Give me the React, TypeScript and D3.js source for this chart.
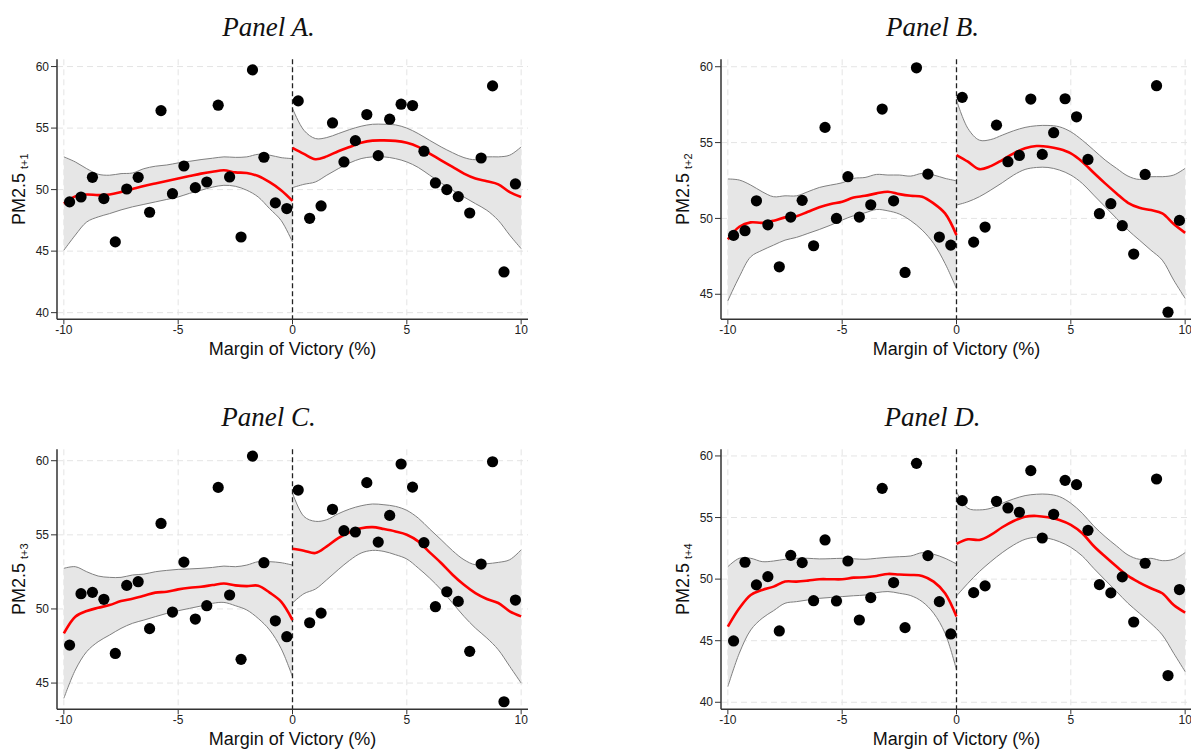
import React from "react";
import * as d3 from "d3";

// bin centres of the scatter (0.5-wide bins on each side of the cutoff)
const binCenters = [
  -9.75, -9.25, -8.75, -8.25, -7.75, -7.25, -6.75, -6.25, -5.75, -5.25,
  -4.75, -4.25, -3.75, -3.25, -2.75, -2.25, -1.75, -1.25, -0.75, -0.25,
  0.25, 0.75, 1.25, 1.75, 2.25, 2.75, 3.25, 3.75, 4.25, 4.75,
  5.25, 5.75, 6.25, 6.75, 7.25, 7.75, 8.25, 8.75, 9.25, 9.75,
];
// grid on which the local fits are evaluated
const gridLeft = [-10, -9.5, -9, -8.5, -8, -7.5, -7, -6.5, -6, -5.5, -5, -4.5, -4, -3.5, -3, -2.5, -2, -1.5, -1, -0.5, 0];
const gridRight = [0, 0.5, 1, 1.5, 2, 2.5, 3, 3.5, 4, 4.5, 5, 5.5, 6, 6.5, 7, 7.5, 8, 8.5, 9, 9.5, 10];

const xTicks = [-10, -5, 0, 5, 10];

// Panel A (t+1)
const ptsA = [49.0, 49.4, 51.0, 49.27, 45.75, 50.05, 51.0, 48.16, 56.42, 49.67, 51.92, 50.16, 50.62, 56.86, 51.03, 46.15, 59.73, 52.63, 48.92, 48.46,
  57.21, 47.67, 48.67, 55.42, 52.25, 53.98, 56.1, 52.76, 55.72, 56.94, 56.83, 53.12, 50.54, 50.0, 49.43, 48.1, 52.57, 58.43, 43.31, 50.46];
const fitAL = [48.86, 49.45, 49.6, 49.55, 49.6, 49.8, 50.05, 50.3, 50.5, 50.7, 50.9, 51.1, 51.3, 51.45, 51.57, 51.4, 51.35, 51.1, 50.6, 49.95, 49.08];
const hiAL = [52.66, 52.25, 51.7, 51.25, 51.17, 51.3, 51.35, 51.7, 51.9, 52.0, 52.17, 52.3, 52.44, 52.55, 52.66, 52.62, 52.66, 52.87, 52.8, 52.6, 52.52];
const loAL = [45.07, 46.3, 47.37, 47.78, 48.05, 48.35, 48.6, 48.8, 49.0, 49.2, 49.4, 49.7, 49.95, 50.2, 50.35, 50.27, 49.95, 49.4, 48.45, 47.5, 45.74];
const fitAR = [53.39, 52.9, 52.47, 52.7, 53.12, 53.47, 53.8, 53.98, 54.0, 53.96, 53.8, 53.47, 52.93, 52.38, 51.84, 51.3, 50.9, 50.68, 50.43, 49.8, 49.4];
const hiAR = [56.6, 54.82, 54.15, 54.23, 54.55, 54.88, 55.15, 55.31, 55.31, 55.26, 55.0, 54.55, 54.0, 53.47, 53.0, 52.6, 52.43, 52.66, 52.66, 52.8, 53.47];
const loAR = [50.16, 50.43, 50.62, 51.17, 51.7, 52.17, 52.52, 52.66, 52.66, 52.52, 52.25, 51.8, 51.17, 50.54, 49.95, 49.4, 48.86, 48.32, 47.5, 46.3, 45.2];

// Panel B (t+2)
const ptsB = [48.88, 49.19, 51.16, 49.58, 46.81, 50.09, 51.19, 48.2, 56.0, 50.0, 52.75, 50.09, 50.9, 57.21, 51.16, 46.44, 59.93, 52.92, 48.77, 48.24,
  57.98, 48.44, 49.43, 56.15, 53.74, 54.15, 57.87, 54.22, 55.65, 57.89, 56.7, 53.89, 50.31, 50.97, 49.52, 47.65, 52.9, 58.75, 43.82, 49.87];
const fitBL = [48.62, 49.45, 49.74, 49.71, 49.85, 50.07, 50.15, 50.44, 50.73, 50.95, 51.1, 51.38, 51.49, 51.65, 51.76, 51.6, 51.49, 51.43, 50.99, 50.33, 48.9];
const hiBL = [52.6, 52.53, 52.2, 51.76, 51.43, 51.49, 51.49, 51.76, 52.04, 52.2, 52.35, 52.64, 52.7, 52.9, 52.86, 52.86, 52.79, 52.97, 52.86, 52.64, 52.48];
const loBL = [44.57, 46.15, 47.47, 47.9, 48.24, 48.57, 48.75, 49.01, 49.27, 49.56, 49.89, 50.18, 50.37, 50.59, 50.5, 50.29, 49.85, 49.23, 48.35, 47.03, 45.38];
const fitBR = [54.18, 53.74, 53.25, 53.45, 53.85, 54.29, 54.62, 54.77, 54.73, 54.57, 54.29, 53.74, 53.01, 52.31, 51.65, 51.03, 50.7, 50.55, 50.33, 49.63, 49.05];
const hiBR = [57.8, 55.93, 55.16, 55.2, 55.49, 55.78, 56.0, 56.11, 56.13, 56.04, 55.71, 55.16, 54.51, 53.85, 53.3, 52.79, 52.57, 52.75, 52.75, 52.86, 53.3];
const loBR = [50.88, 51.1, 51.43, 51.87, 52.35, 52.86, 53.23, 53.36, 53.36, 53.19, 52.86, 52.31, 51.54, 50.77, 50.0, 49.23, 48.57, 47.91, 47.25, 45.93, 44.73];

// Panel C (t+3)
const ptsC = [47.56, 51.03, 51.12, 50.65, 47.0, 51.59, 51.84, 48.67, 55.77, 49.79, 53.16, 49.32, 50.22, 58.2, 50.94, 46.6, 60.31, 53.12, 49.2, 48.13,
  58.02, 49.07, 49.72, 56.72, 55.28, 55.19, 58.52, 54.51, 56.31, 59.78, 58.22, 54.47, 50.15, 51.16, 50.51, 47.14, 53.03, 59.93, 43.74, 50.6];
const fitCL = [48.35, 49.48, 49.86, 50.08, 50.26, 50.53, 50.69, 50.89, 51.1, 51.16, 51.32, 51.43, 51.5, 51.61, 51.72, 51.59, 51.54, 51.57, 51.1, 50.49, 49.25];
const hiCL = [52.74, 52.85, 52.51, 52.22, 52.13, 52.13, 52.29, 52.35, 52.51, 52.6, 52.67, 52.7, 52.74, 52.8, 52.89, 52.85, 52.96, 53.19, 53.19, 53.12, 52.96];
const loCL = [43.97, 45.88, 47.12, 47.79, 48.24, 48.69, 49.03, 49.25, 49.48, 49.7, 49.88, 50.04, 50.2, 50.38, 50.44, 50.22, 49.93, 49.36, 48.58, 47.34, 45.43];
const fitCR = [54.06, 53.93, 53.77, 54.22, 54.78, 55.17, 55.44, 55.52, 55.39, 55.23, 55.01, 54.56, 53.82, 53.1, 52.31, 51.63, 51.07, 50.67, 50.4, 49.84, 49.5];
const hiCR = [57.82, 56.24, 55.91, 56.02, 56.42, 56.74, 56.96, 57.08, 57.03, 56.92, 56.65, 56.13, 55.39, 54.67, 53.93, 53.32, 52.98, 53.05, 53.14, 53.32, 53.99];
const loCR = [50.4, 51.03, 51.34, 51.97, 52.65, 53.28, 53.77, 53.95, 53.88, 53.66, 53.37, 52.76, 52.08, 51.3, 50.4, 49.5, 48.71, 48.04, 47.25, 46.13, 45.0];

// Panel D (t+4)
const ptsD = [44.98, 51.37, 49.53, 50.2, 45.79, 51.93, 51.34, 48.25, 53.18, 48.23, 51.47, 46.68, 48.5, 57.37, 49.72, 46.06, 59.4, 51.91, 48.17, 45.55,
  56.37, 48.9, 49.45, 56.32, 55.78, 55.43, 58.81, 53.34, 55.26, 58.02, 57.67, 53.96, 49.55, 48.88, 50.18, 46.52, 51.29, 58.13, 42.17, 49.15];
const fitDL = [46.14, 47.63, 48.71, 49.12, 49.39, 49.8, 49.8, 49.88, 49.99, 49.99, 49.99, 50.12, 50.15, 50.26, 50.42, 50.37, 50.34, 50.26, 49.8, 48.85, 46.96];
const hiDL = [51.01, 51.69, 51.69, 51.42, 51.47, 51.61, 51.69, 51.69, 51.64, 51.66, 51.69, 51.65, 51.61, 51.69, 51.77, 51.82, 51.88, 52.15, 52.02, 51.69, 51.23];
const loDL = [41.27, 43.98, 45.87, 46.82, 47.44, 48.04, 48.17, 48.31, 48.44, 48.51, 48.58, 48.65, 48.71, 48.9, 48.99, 48.85, 48.66, 48.17, 47.23, 45.6, 42.63];
const fitDR = [52.86, 53.23, 53.18, 53.59, 54.21, 54.72, 55.07, 55.13, 55.02, 54.8, 54.4, 53.72, 52.69, 51.83, 51.02, 50.26, 49.72, 49.26, 48.85, 47.9, 47.28];
const hiDR = [57.1, 55.75, 55.62, 55.75, 56.16, 56.51, 56.78, 56.89, 56.89, 56.7, 56.16, 55.35, 54.32, 53.45, 52.69, 51.96, 51.61, 51.69, 51.5, 51.61, 52.15];
const loDR = [48.63, 49.66, 50.61, 51.42, 52.15, 52.77, 53.23, 53.4, 53.32, 53.04, 52.58, 51.88, 50.88, 49.93, 48.99, 48.04, 47.23, 46.41, 45.47, 43.98, 42.49];

const panels = [
  { title: "Panel A.", sub: "t+1", pts: ptsA, fit: [fitAL, fitAR], hi: [hiAL, hiAR], lo: [loAL, loAR], yDomain: [39.46, 60.59], yTicks: [40, 45, 50, 55, 60], left: 57, top: 59.3 },
  { title: "Panel B.", sub: "t+2", pts: ptsB, fit: [fitBL, fitBR], hi: [hiBL, hiBR], lo: [loBL, loBR], yDomain: [43.35, 60.49], yTicks: [45, 50, 55, 60], left: 721, top: 59.3 },
  { title: "Panel C.", sub: "t+3", pts: ptsC, fit: [fitCL, fitCR], hi: [hiCL, hiCR], lo: [loCL, loCR], yDomain: [43.23, 60.77], yTicks: [45, 50, 55, 60], left: 57, top: 449.3 },
  { title: "Panel D.", sub: "t+4", pts: ptsD, fit: [fitDL, fitDR], hi: [hiDL, hiDR], lo: [loDL, loDR], yDomain: [39.43, 60.54], yTicks: [40, 45, 50, 55, 60], left: 721, top: 449.3 },
];

const W = 471, H = 260;
const sans = "'Liberation Sans', Arial, sans-serif";

function Panel({ p }: { p: any }) {
  const x = d3.scaleLinear().domain([-10.3, 10.3]).range([0, W]);
  const y = d3.scaleLinear().domain(p.yDomain).range([H, 0]);

  const sides = [gridLeft, gridRight].map((g, s) =>
    g.map((gx, i) => ({ x: gx, fit: p.fit[s][i], hi: p.hi[s][i], lo: p.lo[s][i] }))
  );
  const curve = d3.curveCatmullRom;
  const band = d3.area<any>().x((d) => x(d.x)).y0((d) => y(d.lo)).y1((d) => y(d.hi)).curve(curve);
  const lineOf = (k: string) => d3.line<any>().x((d) => x(d.x)).y((d) => y(d[k])).curve(curve);

  return (
    <g transform={`translate(${p.left},${p.top})`}>
      {/* title */}
      <text x={W / 2 - 24} y={-23} textAnchor="middle" fontFamily="'Liberation Serif', serif" fontStyle="italic" fontSize={27} fill="#111">
        {p.title}
      </text>
      {/* grid */}
      {p.yTicks.map((t: number) => (
        <line key={"gy" + t} x1={0} x2={W} y1={y(t)} y2={y(t)} stroke="#e4e4e4" strokeDasharray="6,4" />
      ))}
      {xTicks.filter((t) => t !== 0).map((t) => (
        <line key={"gx" + t} x1={x(t)} x2={x(t)} y1={0} y2={H} stroke="#e4e4e4" strokeDasharray="6,4" />
      ))}
      {/* confidence bands */}
      {sides.map((d, i) => (
        <g key={"b" + i}>
          <path d={band(d) || ""} fill="#e6e6e6" />
          <path d={lineOf("hi")(d) || ""} fill="none" stroke="#808080" strokeWidth={1} />
          <path d={lineOf("lo")(d) || ""} fill="none" stroke="#808080" strokeWidth={1} />
        </g>
      ))}
      {/* cutoff */}
      <line x1={x(0)} x2={x(0)} y1={0} y2={H} stroke="#222" strokeWidth={1.3} strokeDasharray="5,3" />
      {/* fits */}
      {sides.map((d, i) => (
        <path key={"f" + i} d={lineOf("fit")(d) || ""} fill="none" stroke="#ff0000" strokeWidth={2.6} />
      ))}
      {/* binned means */}
      {p.pts.map((v: number, i: number) => (
        <circle key={"p" + i} cx={x(binCenters[i])} cy={y(v)} r={5.6} fill="#000" />
      ))}
      {/* axes */}
      <line x1={0} x2={0} y1={0} y2={H} stroke="#555" strokeWidth={1.8} />
      <line x1={0} x2={W} y1={H} y2={H} stroke="#333" strokeWidth={1.5} />
      {p.yTicks.map((t: number) => (
        <g key={"yt" + t}>
          <line x1={-6} x2={0} y1={y(t)} y2={y(t)} stroke="#333" />
          <text x={-8} y={y(t)} dy="0.35em" textAnchor="end" fontFamily={sans} fontSize={12} fill="#222">{t}</text>
        </g>
      ))}
      {xTicks.map((t) => (
        <g key={"xt" + t}>
          <line x1={x(t)} x2={x(t)} y1={H} y2={H + 5} stroke="#333" />
          <text x={x(t)} y={H + 15} textAnchor="middle" fontFamily={sans} fontSize={12} fill="#222">{t}</text>
        </g>
      ))}
      <text x={W / 2} y={H + 36} textAnchor="middle" fontFamily={sans} fontSize={18} fill="#111">
        Margin of Victory (%)
      </text>
      <text transform={`translate(-32,${H / 2}) rotate(-90)`} textAnchor="middle" fontFamily={sans} fontSize={18} fill="#111">
        PM2.5
        <tspan dx={4} dy={3} fontSize={11}>{p.sub}</tspan>
      </text>
    </g>
  );
}

export default function App() {
  return (
    <svg width={1191} height={749} style={{ position: "absolute", left: 0, top: 0, background: "#fff" }}>
      {panels.map((p) => (
        <Panel key={p.title} p={p} />
      ))}
    </svg>
  );
}
